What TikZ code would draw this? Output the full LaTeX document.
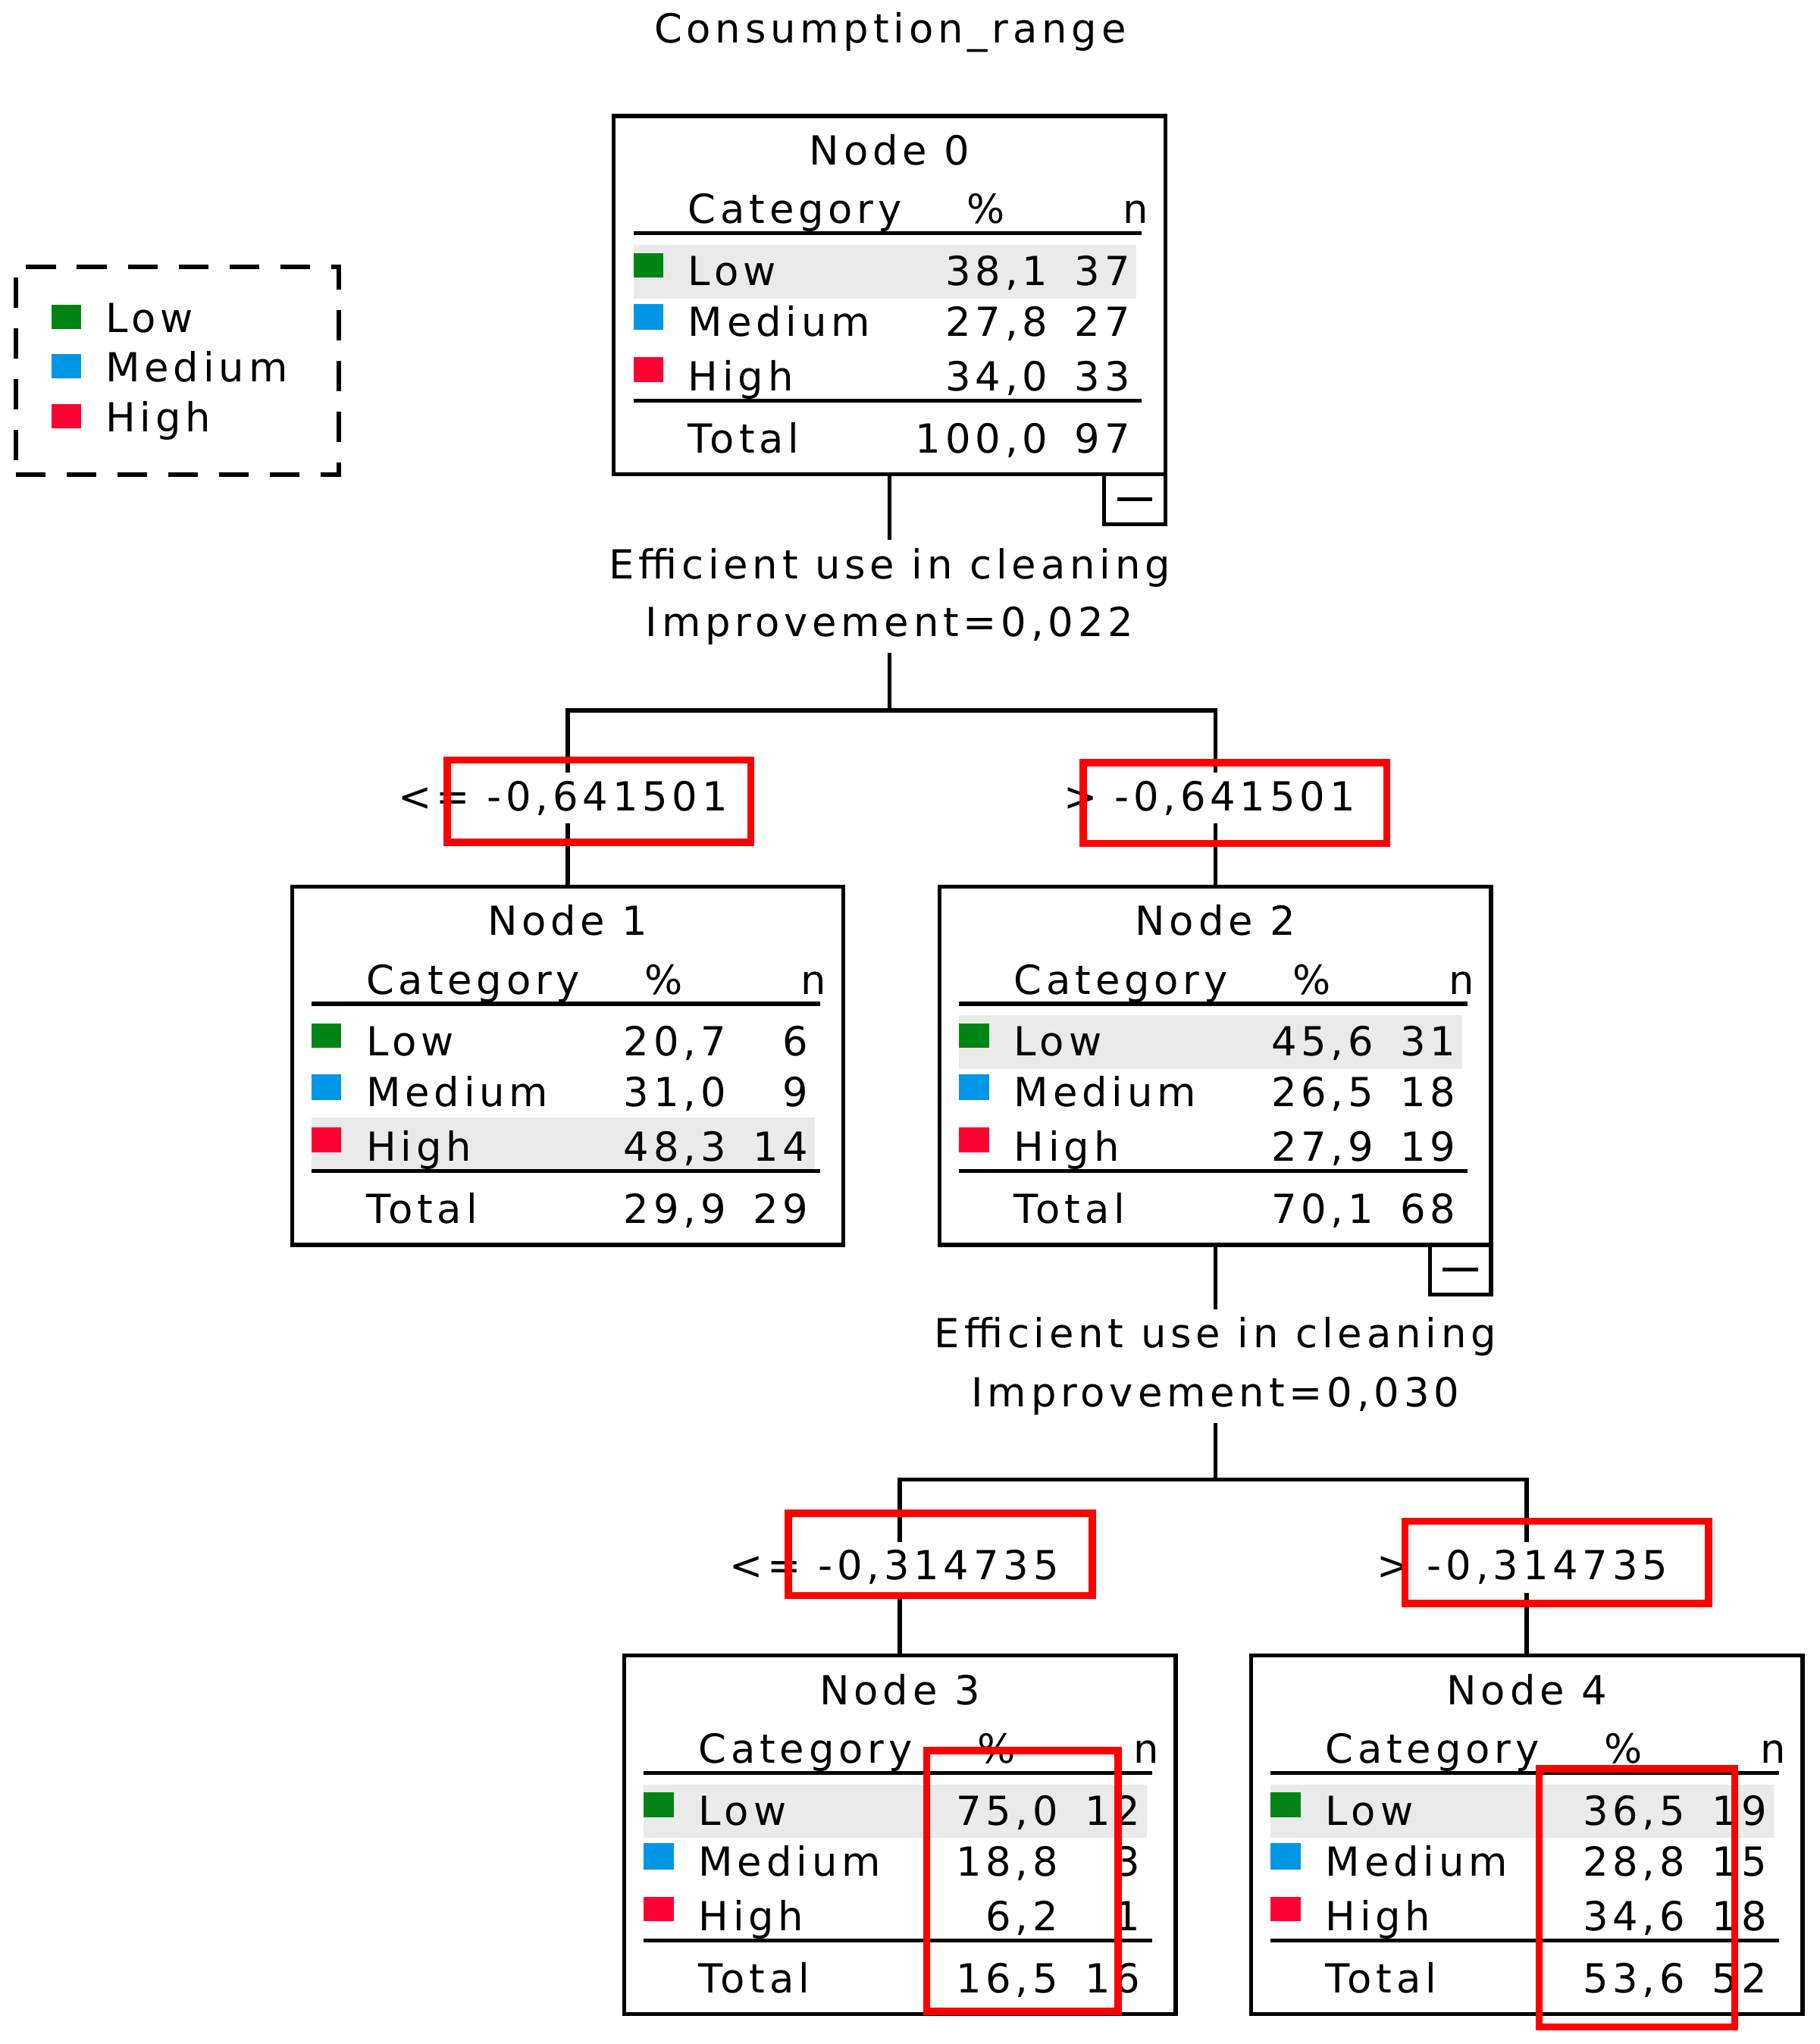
\documentclass[tikz,border=0pt]{standalone}
\usepackage{fontspec}
\setmainfont{DejaVu Sans}[LetterSpace=11]
\newlength\pxu
\setlength\pxu{0.4298pt}
\definecolor{lowc}{RGB}{0,133,20}
\definecolor{medc}{RGB}{0,150,230}
\definecolor{highc}{RGB}{255,0,51}
\definecolor{hlgray}{RGB}{234,234,234}
\definecolor{redbox}{RGB}{255,0,0}
\tikzset{
  treebox/.style={draw, line width=1.3pt, minimum width=423\pxu, minimum height=275\pxu, inner sep=0pt, outer sep=0pt},
  minusbox/.style={draw, line width=1.3pt, minimum width=47\pxu, minimum height=38\pxu, inner sep=0pt, outer sep=0pt, anchor=north east},
  legendbox/.style={draw, dash pattern=on 23\pxu off 16\pxu, line width=1.5pt, minimum width=248\pxu, minimum height=159\pxu, inner sep=0pt, outer sep=0pt, anchor=north west},
  txt/.style={inner sep=0pt, outer sep=0pt},
  lab/.style={txt, anchor=base west},
  num/.style={txt, anchor=base east},
  captxt/.style={txt, anchor=base},
  gaplabel/.style={anchor=base, inner sep=2.5pt},
  conn/.style={line width=1.4pt},
  sepline/.style={line width=1.3pt},
  hlbox/.style={draw=redbox, line width=2.4pt},
}
% table inside a node box, used in a shifted scope (top left = origin)
\newcommand\cattable[3]{%
  \fill[hlgray] (15,#3-20.5) rectangle (401,#3+20.5);
  \node[treebox, anchor=north west] (#1) at (0,0) {};
  \node[captxt] (#1-title) at (211.5,37.5) {Node #2};
  \node[lab] (#1-cat) at (57,82.5) {Category};
  \node[captxt] (#1-pct) at (285.5,82.5) {\%};
  \node[num] (#1-n) at (410,82.5) {n};
  \draw[sepline] (15,90) -- (405,90);
  \fill[lowc] (15,105) rectangle (38,124);
  \fill[medc] (15,144) rectangle (38,164);
  \fill[highc] (15,185) rectangle (38,204);
  \node[lab] (#1-low) at (57,130) {Low};
  \node[lab] (#1-med) at (57,169) {Medium};
  \node[lab] (#1-high) at (57,211) {High};
  \draw[sepline] (15,218.5) -- (405,218.5);
  \node[lab] (#1-tot) at (57,258.5) {Total};
}
\newcommand\catvals[9]{%
  \node[num] (#1-p1) at (333,130) {#2};
  \node[num] (#1-q1) at (396,130) {#3};
  \node[num] (#1-p2) at (333,169) {#4};
  \node[num] (#1-q2) at (396,169) {#5};
  \node[num] (#1-p3) at (333,211) {#6};
  \node[num] (#1-q3) at (396,211) {#7};
  \node[num] (#1-p4) at (333,258.5) {#8};
  \node[num] (#1-q4) at (396,258.5) {#9};
}
\begin{document}
\begin{tikzpicture}[x=0.4298pt, y=-0.4298pt, font=\fontsize{13.2}{18.9}\selectfont]
\useasboundingbox (0,0) rectangle (1396,1568);

\node[captxt] (title) at (683,33) {Consumption\_range};

% legend
\node[legendbox] (legend) at (12,205) {};
\fill[lowc] (39.5,233.7) rectangle (62.5,252.5);
\fill[medc] (39.5,271.6) rectangle (62.5,290.5);
\fill[highc] (39.5,309.8) rectangle (62.5,328.6);
\node[lab] (leg-low) at (81,255) {Low};
\node[lab] (leg-med) at (81,293) {Medium};
\node[lab] (leg-high) at (81,331) {High};

% nodes
\begin{scope}[shift={(471,89)}]
  \cattable{n0}{0}{119.5}
  \catvals{n0}{38,1}{37}{27,8}{27}{34,0}{33}{100,0}{97}
\end{scope}
\begin{scope}[shift={(224,680)}]
  \cattable{n1}{1}{198}
  \catvals{n1}{20,7}{6}{31,0}{9}{48,3}{14}{29,9}{29}
\end{scope}
\begin{scope}[shift={(721,680)}]
  \cattable{n2}{2}{119.5}
  \catvals{n2}{45,6}{31}{26,5}{18}{27,9}{19}{70,1}{68}
\end{scope}
\begin{scope}[shift={(479,1270)}]
  \cattable{n3}{3}{119.5}
  \catvals{n3}{75,0}{12}{18,8}{3}{6,2}{1}{16,5}{16}
\end{scope}
\begin{scope}[shift={(960,1270)}]
  \cattable{n4}{4}{119.5}
  \catvals{n4}{36,5}{19}{28,8}{15}{34,6}{18}{53,6}{52}
\end{scope}

% minus boxes
\node[minusbox] (m0) at (n0.south east) {};
\draw[sepline] ([xshift=-5.8pt]m0.center) -- ([xshift=5.8pt]m0.center);
\node[minusbox] (m2) at (n2.south east) {};
\draw[sepline] ([xshift=-5.8pt]m2.center) -- ([xshift=5.8pt]m2.center);

% split 0
\node[gaplabel] (e0a) at (682.5,444) {Efficient use in cleaning};
\node[gaplabel] (e0b) at (682.5,488) {Improvement=0,022};
\coordinate (s0) at (n0.south |- 0,545);
\draw[conn] (n0.south) -- (n0.south |- e0a.north);
\draw[conn] (n0.south |- e0b.south) -- (s0);
\node[gaplabel] (b1) at (432,622) {<= -0,641501};
\node[gaplabel] (b2) at (928,622) {> -0,641501};
\draw[conn] (n1.north) -- (n1.north |- b1.south);
\draw[conn] (n1.north |- b1.north) |- (s0) -| (n2.north |- b2.north);
\draw[conn] (n2.north |- b2.south) -- (n2.north);

% split 2
\node[gaplabel] (e2a) at (932.5,1034) {Efficient use in cleaning};
\node[gaplabel] (e2b) at (932.5,1079) {Improvement=0,030};
\coordinate (s2) at (n2.south |- 0,1135);
\draw[conn] (n2.south) -- (n2.south |- e2a.north);
\draw[conn] (n2.south |- e2b.south) -- (s2);
\node[gaplabel] (b3) at (686,1212) {<= -0,314735};
\node[gaplabel] (b4) at (1168,1212) {> -0,314735};
\draw[conn] (n3.north) -- (n3.north |- b3.south);
\draw[conn] (n3.north |- b3.north) |- (s2) -| (n4.north |- b4.north);
\draw[conn] (n4.north |- b4.south) -- (n4.north);

% red highlight boxes
\draw[hlbox] (343,583) rectangle (576,646);
\draw[hlbox] (831,585) rectangle (1064,647);
\draw[hlbox] (605,1161) rectangle (838,1224);
\draw[hlbox] (1078,1167) rectangle (1311,1230);
\draw[hlbox] (711,1343) rectangle (858,1543);
\draw[hlbox] (1181,1357) rectangle (1331,1555);
\end{tikzpicture}
\end{document}
